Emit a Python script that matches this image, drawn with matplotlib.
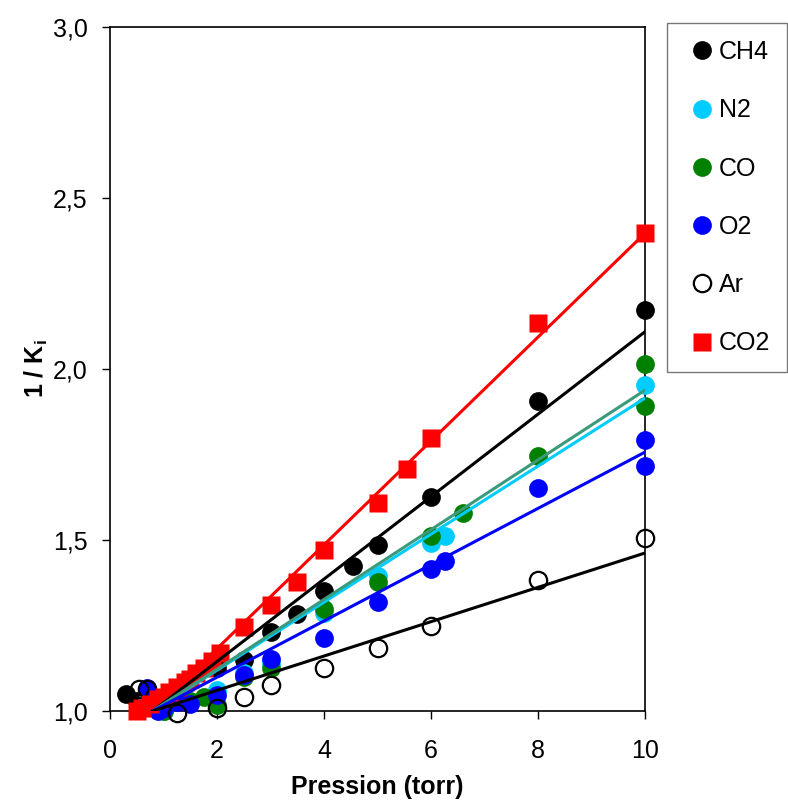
import numpy as np
import matplotlib
matplotlib.use('Agg')
import matplotlib.pyplot as plt

plt.rcParams['font.family'] = ['Liberation Sans', 'DejaVu Sans']
plt.rcParams['mathtext.fontset'] = 'custom'
plt.rcParams['mathtext.rm'] = 'Liberation Sans'
plt.rcParams['mathtext.bf'] = 'Liberation Sans:bold'

# data (pression in torr, 1/Ki)
ch4_x = [0.3, 0.5, 0.8, 1.0, 2.0, 2.5, 3.0, 3.5, 4.0, 4.55, 5.0, 6.0, 8.0, 10.0]
ch4_y = [1.05, 1.03, 1.02, 1.04, 1.125, 1.15, 1.23, 1.284, 1.351, 1.424, 1.485, 1.626, 1.906, 2.172]

n2_x = [0.7, 1.0, 1.5, 2.0, 2.5, 3.0, 4.0, 5.0, 6.0, 6.26, 10.0]
n2_y = [1.03, 1.0, 1.03, 1.06, 1.11, 1.14, 1.286, 1.395, 1.49, 1.512, 1.953]

co_x = [0.8, 1.0, 1.5, 1.75, 2.0, 2.5, 3.0, 4.0, 5.0, 6.0, 6.6, 8.0, 10.0, 10.0]
co_y = [1.02, 1.0, 1.03, 1.04, 1.017, 1.1, 1.126, 1.298, 1.378, 1.511, 1.579, 1.746, 2.015, 1.892]

o2_x = [0.7, 0.9, 1.0, 1.25, 1.5, 2.0, 2.5, 3.0, 4.0, 5.0, 6.0, 6.26, 8.0, 10.0, 10.0]
o2_y = [1.067, 1.0, 1.01, 1.026, 1.02, 1.047, 1.105, 1.152, 1.213, 1.32, 1.415, 1.44, 1.652, 1.792, 1.716]

ar_x = [0.55, 0.7, 1.25, 2.0, 2.5, 3.0, 4.0, 5.0, 6.0, 8.0, 10.0]
ar_y = [1.065, 1.065, 0.995, 1.01, 1.041, 1.076, 1.126, 1.184, 1.249, 1.383, 1.506]

co2_x = [0.5, 0.6, 0.75, 0.9, 1.0, 1.1, 1.25, 1.4, 1.5, 1.6, 1.75, 1.9, 2.05,
         2.5, 3.0, 3.5, 4.0, 5.0, 5.55, 6.0, 8.0, 10.0]
co2_y = [1.0, 1.01, 1.02, 1.035, 1.04, 1.055, 1.07, 1.085, 1.095, 1.11, 1.125, 1.145, 1.17,
         1.246, 1.31, 1.377, 1.471, 1.608, 1.708, 1.798, 2.134, 2.398]

# linear fits (start and end of each fitted line)
fit_x = [0.8, 10.0]
fit_ch4 = [1.0, 2.109]
fit_co = [1.0, 1.938]
fit_n2 = [1.0, 1.915]
fit_o2 = [1.0, 1.757]
fit_ar = [1.0, 1.462]
fit_co2 = [1.0, 2.397]

cyan = '#00CCFF'
green = '#008000'
blue = '#0000FF'
red = '#FF0000'
teal = '#3A9A7A'

fig = plt.figure(figsize=(7.88, 8.01), dpi=100)
ax = fig.add_axes([110 / 788, 90 / 801, 535 / 788, 684 / 801])

ms = 13.5
ax.plot(ch4_x, ch4_y, 'o', color='black', ms=ms, mec='none', clip_on=False, label='CH4', zorder=3)
ax.plot(n2_x, n2_y, 'o', color=cyan, ms=ms, mec='none', clip_on=False, label='N2', zorder=3)
ax.plot(co_x, co_y, 'o', color=green, ms=ms, mec='none', clip_on=False, label='CO', zorder=3)
ax.plot(o2_x, o2_y, 'o', color=blue, ms=ms, mec='none', clip_on=False, label='O2', zorder=3)
ax.plot(ar_x, ar_y, 'o', mfc='none', mec='black', mew=1.6, ms=ms - 1, clip_on=False, label='Ar', zorder=3)
ax.plot(co2_x, co2_y, 's', color=red, ms=ms, mec='none', clip_on=False, label='CO2', zorder=3)

lw = 2.2
ax.plot(fit_x, fit_co2, color=red, lw=lw, zorder=4)
ax.plot(fit_x, fit_ch4, color='black', lw=lw, zorder=4)
ax.plot(fit_x, fit_n2, color=cyan, lw=lw, zorder=4)
ax.plot(fit_x, fit_co, color=teal, lw=lw, zorder=4)
ax.plot(fit_x, fit_o2, color=blue, lw=lw, zorder=4)
ax.plot(fit_x, fit_ar, color='black', lw=lw, zorder=4)

ax.set_xlim(0, 10)
ax.set_ylim(1.0, 3.0)
ax.set_xticks([0, 2, 4, 6, 8, 10])
ax.set_yticks([1.0, 1.5, 2.0, 2.5, 3.0])
ax.set_yticklabels(['1,0', '1,5', '2,0', '2,5', '3,0'])
ax.tick_params(direction='out', length=6, width=1, labelsize=18, colors='black')
ax.tick_params(axis='x', pad=14)
ax.tick_params(axis='y', pad=10)
for s in ax.spines.values():
    s.set_linewidth(1.2)

ax.set_xlabel('Pression (torr)', fontsize=18, fontweight='bold', labelpad=9)
ax.set_ylabel('1 / K$_\\mathregular{i}$', fontsize=18, fontweight='bold', labelpad=2)

leg = fig.legend(loc='upper left', bbox_to_anchor=(667 / 788, 1 - 23 / 801),
                 fontsize=18, frameon=True, fancybox=False, handletextpad=0.0,
                 handlelength=1.4, labelspacing=1.37, borderpad=0.68, markerscale=1.0,
                 borderaxespad=0)
leg.get_frame().set_edgecolor('#555555')
leg.get_frame().set_linewidth(1.0)

fig.savefig('out.png', dpi=100)
